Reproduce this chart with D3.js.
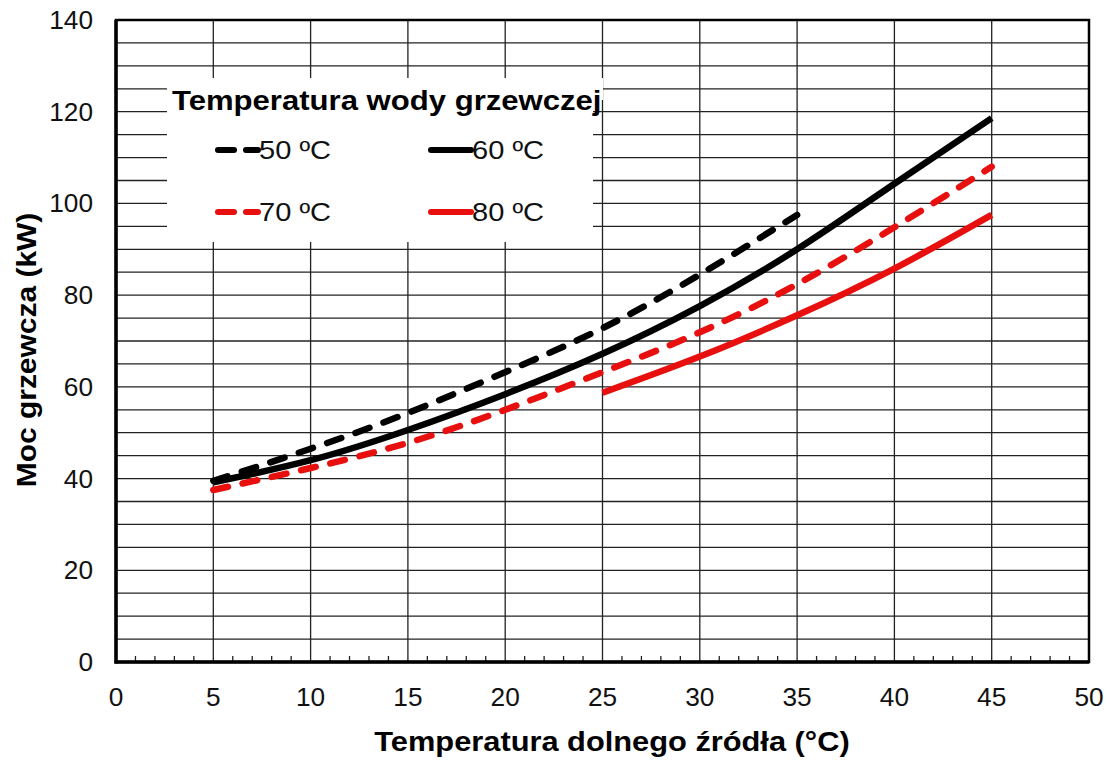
<!DOCTYPE html>
<html><head><meta charset="utf-8">
<script src="https://cdn.jsdelivr.net/npm/d3@7"></script>
<style>
html,body{margin:0;padding:0;background:#fff;}
svg{display:block;font-family:"Liberation Sans",Arial,sans-serif;}
</style></head>
<body>
<svg id="chart" width="1110" height="760"></svg>
<script>
// ---- data ----
const xTicks = [0,5,10,15,20,25,30,35,40,45,50];
const yTicks = [0,20,40,60,80,100,120,140];
const x50 = [5,10,15,20,25,30,35];
const y50 = [39.5,46.5,54.3,63.2,72.8,84.5,97.5];
const x60 = [5,10,15,20,25,30,35,40,45];
const y60 = [39.2,44.0,50.6,58.4,67.2,77.6,90.0,104.3,118.6];
const x70 = [5,10,15,20,25,30,35,40,45];
const y70 = [37.5,42.3,47.8,55.0,63.2,71.9,82.4,94.8,108.0];
const x80 = [25,30,35,40,45];
const y80 = [58.7,66.6,75.6,85.8,97.5];
const seriesNames = ["50 ºC","60 ºC","70 ºC","80 ºC"];
const xTitle = "Temperatura dolnego źródła (°C)";
const yTitle = "Moc grzewcza (kW)";
const legendTitle = "Temperatura wody grzewczej";

const series = [
  {name:seriesNames[0], xs:x50, ys:y50, color:"#000", dash:true},
  {name:seriesNames[1], xs:x60, ys:y60, color:"#000", dash:false},
  {name:seriesNames[2], xs:x70, ys:y70, color:"#e8100f", dash:true},
  {name:seriesNames[3], xs:x80, ys:y80, color:"#e8100f", dash:false}
];

const svg = d3.select("#chart");
const L=116, R=1089, T=20, B=662;
const x = d3.scaleLinear().domain([0,50]).range([L,R]);
const y = d3.scaleLinear().domain([0,140]).range([B,T]);

// grid
const g = svg.append("g");
g.selectAll("line.h").data(d3.range(5,140,5)).join("line")
  .attr("x1",L).attr("x2",R).attr("y1",d=>y(d)).attr("y2",d=>y(d))
  .attr("stroke","#222").attr("stroke-width",1.3);
g.selectAll("line.v").data(d3.range(5,50,5)).join("line")
  .attr("y1",T).attr("y2",B).attr("x1",d=>x(d)).attr("x2",d=>x(d))
  .attr("stroke","#222").attr("stroke-width",1.3);
// minor ticks at bottom
g.selectAll("line.m").data(d3.range(1,50).filter(d=>d%5!==0)).join("line")
  .attr("x1",d=>x(d)).attr("x2",d=>x(d)).attr("y1",B).attr("y2",B-6)
  .attr("stroke","#222").attr("stroke-width",1.3);

// legend background
svg.append("rect").attr("x",167).attr("y",78).attr("width",426).attr("height",164).attr("fill","#fff");
svg.append("rect").attr("x",167).attr("y",78).attr("width",436).attr("height",22).attr("fill","#fff");

// frame
svg.append("rect").attr("x",L).attr("y",T).attr("width",R-L).attr("height",B-T)
  .attr("fill","none").attr("stroke","#000").attr("stroke-width",2.5);
svg.append("line").attr("x1",L).attr("x2",L).attr("y1",T).attr("y2",B+1.5).attr("stroke","#000").attr("stroke-width",3.5);
svg.append("line").attr("x1",L-1.5).attr("x2",R).attr("y1",B).attr("y2",B).attr("stroke","#000").attr("stroke-width",3.5);

// axes labels (text slightly stretched horizontally like the reference)
svg.append("g").selectAll("text").data(yTicks).join("text")
  .attr("transform",d=>`translate(93,${y(d)}) scale(1.05,1)`).attr("dy","0.36em").attr("text-anchor","end")
  .attr("font-size",25).attr("fill","#111").text(d=>d);
svg.append("g").selectAll("text").data(xTicks).join("text")
  .attr("transform",d=>`translate(${x(d)},706) scale(1.05,1)`).attr("text-anchor","middle")
  .attr("font-size",25).attr("fill","#111").text(d=>d);

svg.append("text").attr("transform","translate(612,751) scale(1.1,1)").attr("text-anchor","middle")
  .attr("font-size",28).attr("font-weight","bold").attr("fill","#000").text(xTitle);
svg.append("text").attr("transform","translate(36,350) rotate(-90) scale(1.07,1)").attr("text-anchor","middle")
  .attr("font-size",28).attr("font-weight","bold").attr("fill","#000").text(yTitle);

// lines
const line = d3.line().curve(d3.curveNatural);
series.forEach(s=>{
  const pts = s.xs.map((v,i)=>[x(v), y(s.ys[i])]);
  svg.append("path").attr("d",line(pts)).attr("fill","none")
    .attr("stroke",s.color).attr("stroke-width",6.5)
    .attr("stroke-linecap",s.dash?"round":"butt")
    .attr("stroke-dasharray",s.dash?"15,15":null);
});

// legend
svg.append("text").attr("transform","translate(172,110) scale(1.11,1)").attr("font-size",28).attr("font-weight","bold")
  .attr("fill","#000").text(legendTitle);
const legPos = [[215,150],[428,150],[215,212],[428,212]];
series.forEach((s,i)=>{
  const [lx,ly] = legPos[i];
  svg.append("line").attr("x1",lx+3).attr("x2",lx+43).attr("y1",ly).attr("y2",ly)
    .attr("stroke",s.color).attr("stroke-width",6)
    .attr("stroke-linecap","round")
    .attr("stroke-dasharray",s.dash?"16,12":null);
  svg.append("text").attr("transform",`translate(${lx+44},${ly+9}) scale(1.12,1)`).attr("font-size",26).attr("fill","#111").text(s.name);
});
</script>
</body></html>
